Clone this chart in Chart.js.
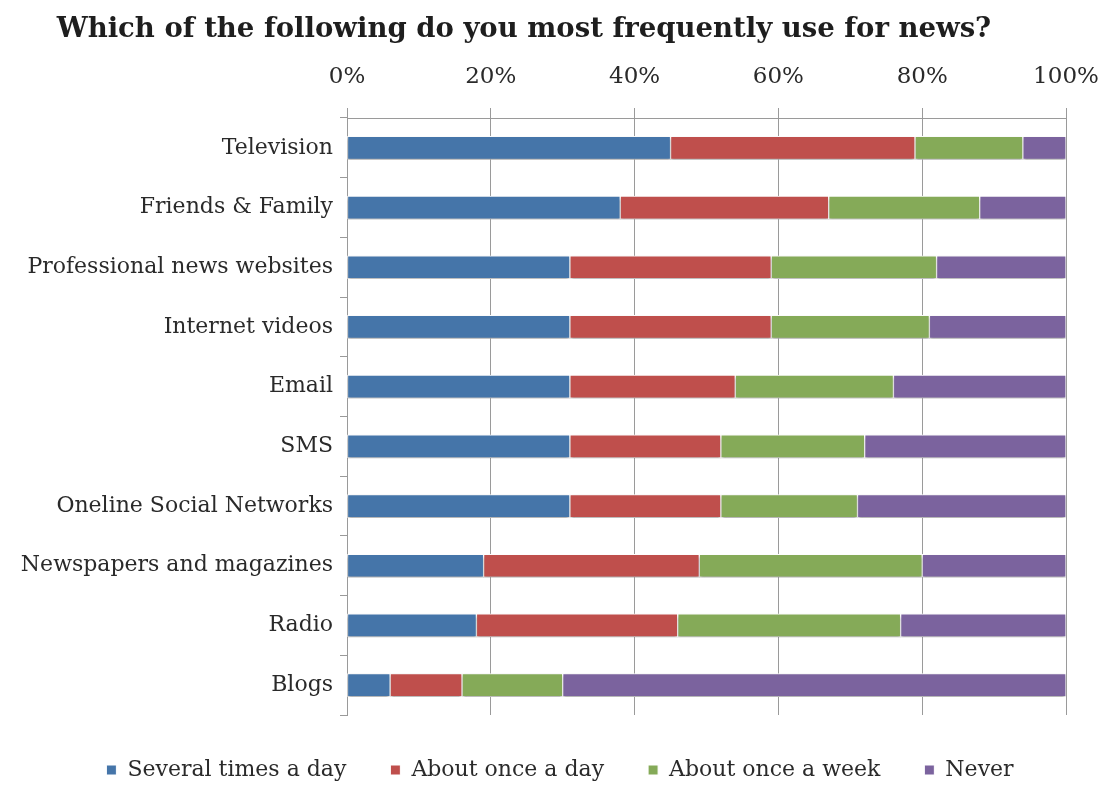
<!DOCTYPE html>
<html>
<head>
<meta charset="utf-8">
<script src="https://cdn.jsdelivr.net/npm/chart.js@4.4.1/dist/chart.umd.min.js"></script>
<style>
  html, body { margin: 0; padding: 0; background: #fff; }
  #wrap { width: 1106px; height: 785px; }
</style>
</head>
<body>
<div id="wrap"><canvas id="news-chart"></canvas></div>
<script>
// survey answers, percent of respondents per source
var sources = ["Television", "Friends & Family", "Professional news websites", "Internet videos",
               "Email", "SMS", "Oneline Social Networks", "Newspapers and magazines", "Radio", "Blogs"];
var severalTimesADay = [45, 38, 31, 31, 31, 31, 31, 19, 18, 6];
var aboutOnceADay    = [34, 29, 28, 28, 23, 21, 21, 30, 28, 10];
var aboutOnceAWeek   = [15, 21, 23, 22, 22, 20, 19, 31, 31, 14];
var never            = [6, 12, 18, 19, 24, 28, 29, 20, 23, 70];
var xTicks = [0, 20, 40, 60, 80, 100];

var fontFamily = "'DejaVu Serif', serif";
var gridColor = "#9a9a9a";

// soft drop shadow under the bars
var barShadow = {
    id: 'barShadow',
    beforeDatasetsDraw: function(chart) {
        var ctx = chart.ctx;
        ctx.save();
        ctx.shadowColor = 'rgba(0,0,0,0.35)';
        ctx.shadowBlur = 3;
        ctx.shadowOffsetY = 2;
    },
    afterDatasetsDraw: function(chart) {
        chart.ctx.restore();
    }
};

// title sits a bit left of the canvas centre, legend a bit right
var nudgeBlocks = {
    id: 'nudgeBlocks',
    afterLayout: function(chart) {
        if (chart.titleBlock) {
            chart.titleBlock.left = 0;
            chart.titleBlock.right = 1048;
        }
        if (chart.legend) {
            chart.legend.left += 27;
            chart.legend.right += 27;
        }
    }
};

function makeSet(label, data, color) {
    return {
        label: label,
        data: data,
        backgroundColor: color,
        borderColor: '#ffffff',
        borderWidth: 1,
        borderSkipped: false,
        barThickness: 23
    };
}

new Chart(document.getElementById("news-chart"), {
    type: 'bar',
    data: {
        labels: sources,
        datasets: [
            makeSet("Several times a day", severalTimesADay, "#4575a9"),
            makeSet("About once a day", aboutOnceADay, "#bf4f4c"),
            makeSet("About once a week", aboutOnceAWeek, "#85aa58"),
            makeSet("Never", never, "#7b639e")
        ]
    },
    plugins: [barShadow, nudgeBlocks],
    options: {
        indexAxis: 'y',
        responsive: true,
        maintainAspectRatio: false,
        animation: false,
        layout: { padding: { left: 0, right: 40, top: 0, bottom: -6 } },
        scales: {
            x: {
                position: 'top',
                stacked: true,
                min: 0,
                max: 100,
                afterBuildTicks: function(scale) {
                    scale.ticks = xTicks.map(function(v) { return { value: v }; });
                },
                afterFit: function(scale) {
                    scale.height = 68;
                    scale.paddingLeft = 0;
                    scale.paddingRight = 0;
                },
                ticks: {
                    padding: 17,
                    color: '#2a2a2a',
                    font: { family: fontFamily, size: 23 },
                    callback: function(v) { return v + '%'; }
                },
                grid: { color: gridColor, tickLength: 10 },
                border: { color: gridColor }
            },
            y: {
                stacked: true,
                afterFit: function(scale) { scale.width = 347; },
                ticks: {
                    padding: 7,
                    color: '#2a2a2a',
                    font: { family: fontFamily, size: 22 }
                },
                grid: { drawOnChartArea: false, color: gridColor, tickLength: 7, offset: true },
                border: { color: gridColor }
            }
        },
        plugins: {
            title: {
                display: true,
                text: 'Which of the following do you most frequently use for news?',
                color: '#1e1e1e',
                font: { family: fontFamily, size: 27.5, weight: 'bold', lineHeight: 1.2 },
                padding: { top: 13, bottom: 4 }
            },
            legend: {
                position: 'bottom',
                labels: {
                    color: '#2a2a2a',
                    font: { family: fontFamily, size: 22 },
                    boxWidth: 10,
                    boxHeight: 10,
                    padding: 44
                }
            },
            tooltip: { enabled: false }
        }
    }
});
</script>
</body>
</html>
